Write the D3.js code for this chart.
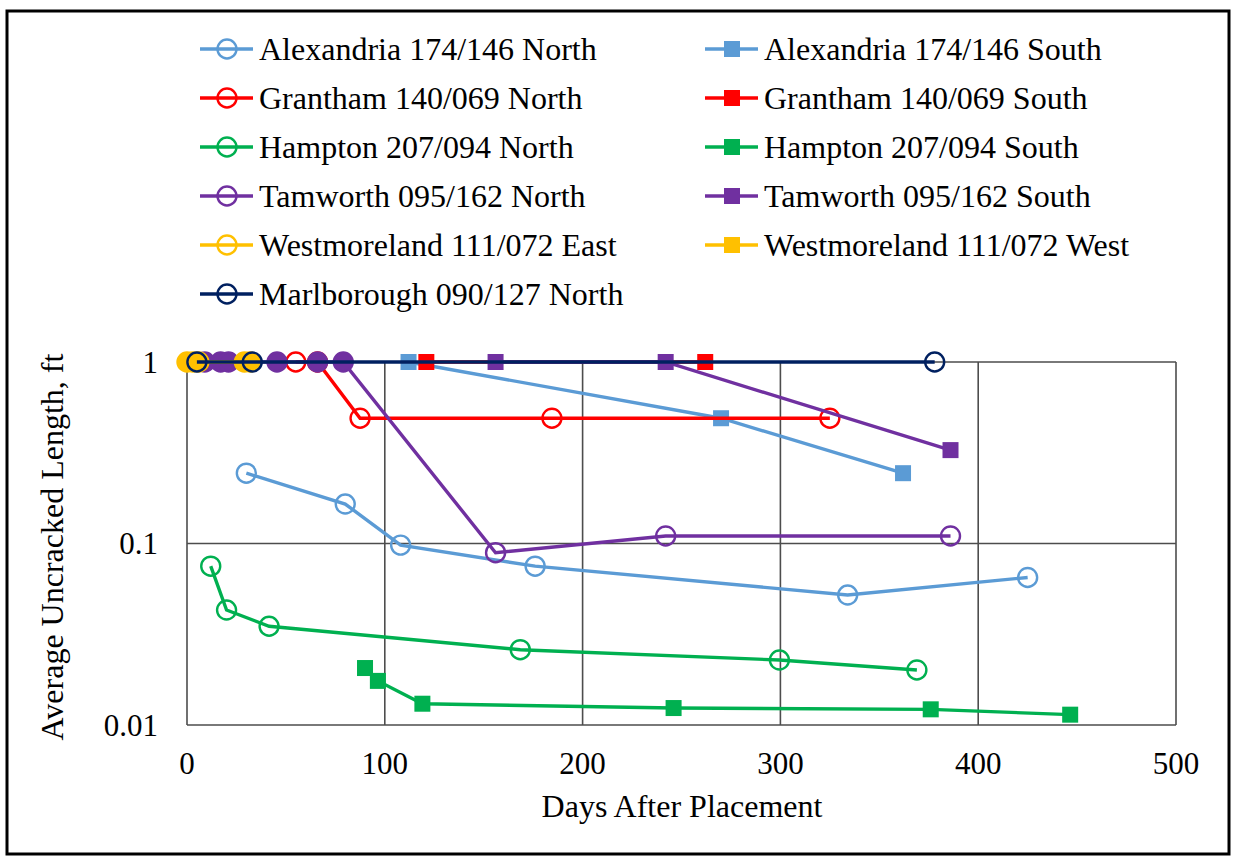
<!DOCTYPE html>
<html>
<head>
<meta charset="utf-8">
<script src="https://cdn.jsdelivr.net/npm/d3@7"></script>
<style>
  body { margin: 0; background: #fff; }
</style>
</head>
<body>
<script>
// values
var alexNDays = [30, 80, 108, 176, 334, 425];
var alexNVals = [0.244, 0.165, 0.098, 0.075, 0.052, 0.065];
var alexSDays = [112, 270, 362];
var alexSVals = [1, 0.49, 0.244];
var grantNDays = [55, 66, 87.5, 184.5, 325];
var grantNVals = [1, 1, 0.49, 0.49, 0.49];
var grantSDays = [121, 262];
var grantSVals = [1, 1];
var hampNDays = [12, 20, 41.5, 168.5, 299.5, 369];
var hampNVals = [0.075, 0.043, 0.035, 0.026, 0.0228, 0.0201];
var hampSDays = [90, 96.5, 119, 246, 376, 446.5];
var hampSVals = [0.0206, 0.0175, 0.0131, 0.0124, 0.0122, 0.0114];
var tamNDays = [9, 17, 21, 45.5, 66, 79, 156, 242, 386];
var tamNVals = [1, 1, 1, 1, 1, 1, 0.089, 0.11, 0.11];
var tamSDays = [156, 242, 386];
var tamSVals = [1, 1, 0.327];
var westEDays = [0, 3, 6, 29, 32];
var westEVals = [1, 1, 1, 1, 1];
var westWDays = [1, 30];
var westWVals = [1, 1];
var marlNDays = [5, 33, 378];
var marlNVals = [1, 1, 1];

var xTicks = [0, 100, 200, 300, 400, 500];
var yTicks = [0.01, 0.1, 1];

var series = [
  {name: "Alexandria 174/146 North", days: alexNDays, vals: alexNVals, color: "#5B9BD5", shape: "circle"},
  {name: "Alexandria 174/146 South", days: alexSDays, vals: alexSVals, color: "#5B9BD5", shape: "square"},
  {name: "Grantham 140/069 North", days: grantNDays, vals: grantNVals, color: "#FF0000", shape: "circle"},
  {name: "Grantham 140/069 South", days: grantSDays, vals: grantSVals, color: "#FF0000", shape: "square"},
  {name: "Hampton 207/094 North", days: hampNDays, vals: hampNVals, color: "#00B050", shape: "circle"},
  {name: "Hampton 207/094 South", days: hampSDays, vals: hampSVals, color: "#00B050", shape: "square"},
  {name: "Tamworth 095/162 North", days: tamNDays, vals: tamNVals, color: "#7030A0", shape: "circle", solidAtOne: true},
  {name: "Tamworth 095/162 South", days: tamSDays, vals: tamSVals, color: "#7030A0", shape: "square"},
  {name: "Westmoreland 111/072 East", days: westEDays, vals: westEVals, color: "#FFC000", shape: "circle", solidAtOne: true},
  {name: "Westmoreland 111/072 West", days: westWDays, vals: westWVals, color: "#FFC000", shape: "square"},
  {name: "Marlborough 090/127 North", days: marlNDays, vals: marlNVals, color: "#002060", shape: "circle"}
];

var FONT = "'Liberation Serif', monospace";

var svg = d3.select("body").append("svg")
    .attr("width", 1233)
    .attr("height", 859);

// outer frame
svg.append("rect")
    .attr("x", 7).attr("y", 11)
    .attr("width", 1222).attr("height", 843)
    .attr("fill", "#fff")
    .attr("stroke", "#000")
    .attr("stroke-width", 3);

var x = d3.scaleLinear().domain([0, 500]).range([187, 1176]);
var y = d3.scaleLog().domain([0.01, 1]).range([725, 362]);

// grid
var g = svg.append("g");
g.selectAll(".vgrid")
  .data(xTicks)
  .enter().append("line")
    .attr("x1", function(d) { return x(d); })
    .attr("x2", function(d) { return x(d); })
    .attr("y1", y(1)).attr("y2", y(0.01))
    .attr("stroke", "#4d4d4d")
    .attr("stroke-width", 1.6);
g.selectAll(".hgrid")
  .data(yTicks)
  .enter().append("line")
    .attr("x1", x(0)).attr("x2", x(500))
    .attr("y1", function(d) { return y(d); })
    .attr("y2", function(d) { return y(d); })
    .attr("stroke", "#4d4d4d")
    .attr("stroke-width", 1.6);

// tick labels
g.selectAll(".xlab")
  .data(xTicks)
  .enter().append("text")
    .attr("x", function(d) { return x(d); })
    .attr("y", 763)
    .attr("dy", "0.35em")
    .attr("text-anchor", "middle")
    .style("font-family", FONT)
    .style("font-size", "31px")
    .text(function(d) { return d; });
g.selectAll(".ylab")
  .data(yTicks)
  .enter().append("text")
    .attr("x", 158)
    .attr("y", function(d) { return y(d); })
    .attr("dy", "0.35em")
    .attr("text-anchor", "end")
    .style("font-family", FONT)
    .style("font-size", "31px")
    .text(function(d) { return d; });

svg.append("text")
    .attr("x", 682).attr("y", 806)
    .attr("dy", "0.35em")
    .attr("text-anchor", "middle")
    .style("font-family", FONT)
    .style("font-size", "32px")
    .text("Days After Placement");

svg.append("text")
    .attr("transform", "translate(52,547) rotate(-90)")
    .attr("dy", "0.35em")
    .attr("text-anchor", "middle")
    .style("font-family", FONT)
    .style("font-size", "32px")
    .text("Average Uncracked Length, ft");

// series
var line = d3.line()
    .x(function(d) { return x(d[0]); })
    .y(function(d) { return y(d[1]); });

function drawMarker(sel, s, solid) {
  if (s.shape === "circle") {
    sel.append("circle")
      .attr("r", 9.5)
      .attr("fill", solid ? s.color : "#fff")
      .attr("fill-opacity", solid ? 1 : 0)
      .attr("stroke", s.color)
      .attr("stroke-width", 2.4);
  } else {
    sel.append("rect")
      .attr("x", -8).attr("y", -8)
      .attr("width", 16).attr("height", 16)
      .attr("fill", s.color);
  }
}

series.forEach(function(s) {
  var pts = s.days.map(function(d, i) { return [d, s.vals[i]]; });
  var sg = svg.append("g");
  sg.append("path")
    .datum(pts)
    .attr("fill", "none")
    .attr("stroke", s.color)
    .attr("stroke-width", 3.4)
    .attr("d", line);
  sg.selectAll(".m")
    .data(pts)
    .enter().append("g")
      .attr("transform", function(d) { return "translate(" + x(d[0]) + "," + y(d[1]) + ")"; })
      .each(function(d) { drawMarker(d3.select(this), s, s.solidAtOne && d[1] === 1); });
});

// legend
var legend = svg.selectAll(".legend")
  .data(series)
  .enter().append("g")
    .attr("transform", function(d, i) {
      var col = i % 2, row = Math.floor(i / 2);
      return "translate(" + (col ? 732 : 227) + "," + (49 + row * 49) + ")";
    });
legend.append("line")
    .attr("x1", -27).attr("x2", 26)
    .attr("stroke", function(d) { return d.color; })
    .attr("stroke-width", 3.4);
legend.each(function(d) { drawMarker(d3.select(this), d, false); });
legend.select("circle").attr("fill-opacity", 0);
legend.append("text")
    .attr("x", 32)
    .attr("dy", "0.35em")
    .style("font-family", FONT)
    .style("font-size", "32px")
    .text(function(d) { return d.name; });
</script>
</body>
</html>
